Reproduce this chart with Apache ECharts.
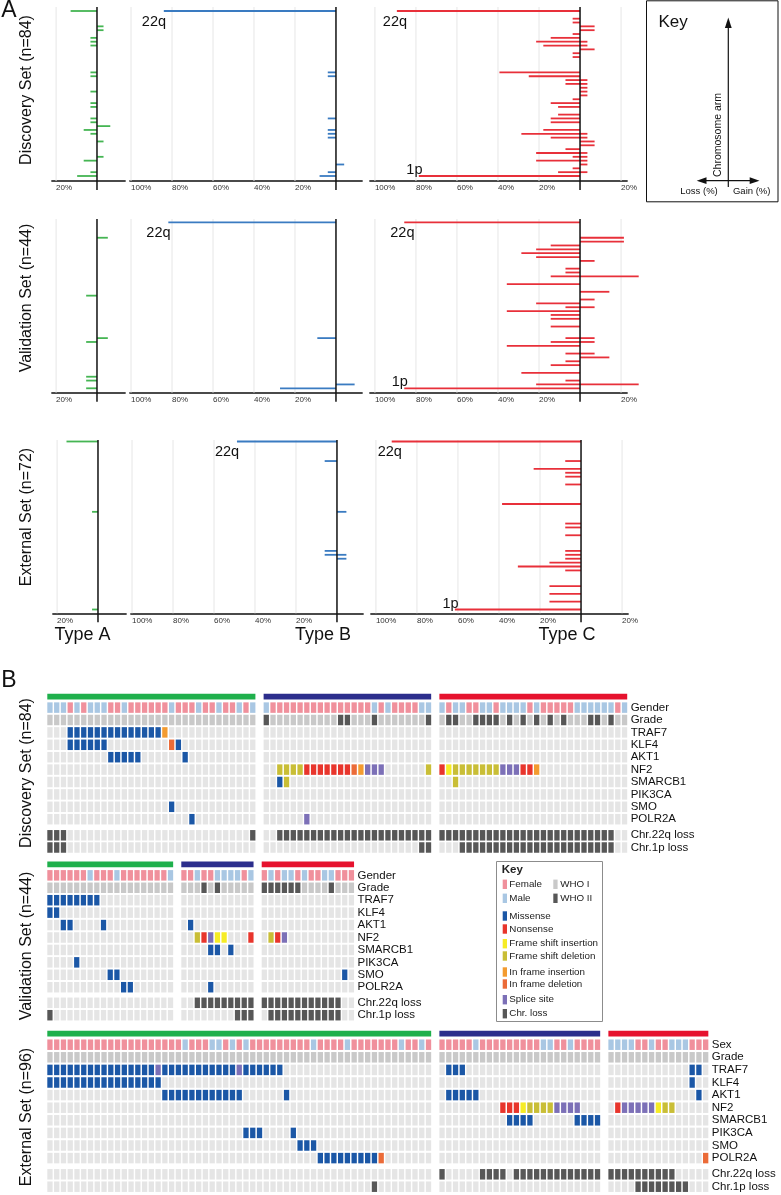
<!DOCTYPE html>
<html>
<head>
<meta charset="utf-8">
<script src="https://cdn.jsdelivr.net/npm/echarts@6.0.0/dist/echarts.min.js"></script>
<style>
html,body{margin:0;padding:0;background:#fff;}
#chart{width:781px;height:1195px;}
</style>
</head>
<body>
<div id="chart"></div>
<script>
// ================= Panel A data: % of cases with loss / gain per chromosome arm =================
// arms listed top (22q) to bottom (1p), as drawn
const arms = ['22q','22p','21q','21p','20q','20p','19q','19p','18q','18p','17q','17p','16q','16p','15q','15p',
  '14q','14p','13q','13p','12q','12p','11q','11p','10q','10p','9q','9p','8q','8p','7q','7p','6q','6p',
  '5q','5p','4q','4p','3q','3p','2q','2p','1q','1p'];

const discoveryA_loss = [12.9,0,0,0,0,0,0,3.2,3.2,3.2, 0,0,0,0,0,0,3.2,3.2,0,0, 0,3.2,0,0,3.2,3.2,0,0,3.2,3.2, 0,6.5,3.2,0,0,0,0,0,0,6.5, 0,0,3.2,9.7];
const discoveryA_gain = [0,0,0,0,3.2,3.2,0,0,0,0, 0,0,0,0,0,0,0,0,0,0, 0,0,0,0,0,0,0,0,0,0, 6.5,0,0,0,3.2,0,0,0,3.2,0, 0,0,0,0];
const discoveryB_loss = [84,0,0,0,0,0,0,0,0,0, 0,0,0,0,0,0,4,4,0,0, 0,0,0,0,0,0,0,0,4,0, 0,4,4,4,0,0,0,0,0,0, 0,0,4,8];
const discoveryB_gain = [0,0,0,0,0,0,0,0,0,0, 0,0,0,0,0,0,0,0,0,0, 0,0,0,0,0,0,0,0,0,0, 0,0,0,0,0,0,0,0,0,0, 4,0,0,0];
const discoveryC_loss = [89.3,0,3.6,3.6,0,0,3.6,14.3,21.4,17.9, 0,3.6,3.6,0,0,0,39.3,25,7.1,7.1, 0,0,0,3.6,14.3,10.7,0,10.7,14.3,14.3, 0,17.9,28.6,14.3,0,0,7.1,21.4,3.6,21.4, 0,3.6,10.7,78.6];
const discoveryC_gain = [0,0,0,0,7.1,7.1,0,0,3.6,3.6, 7.1,0,0,0,0,0,0,0,3.6,3.6, 3.6,3.6,3.6,0,0,0,0,0,0,0, 0,0,3.6,3.6,7.1,7.1,0,3.6,3.6,3.6, 3.6,0,3.6,0];

const validationA_loss = [0,0,0,0,0,0,0,0,0,0, 0,0,0,0,0,0,0,0,0,5.3, 0,0,0,0,0,0,0,0,0,0, 0,5.3,0,0,0,0,0,0,0,0, 5.3,5.3,0,5.3];
const validationA_gain = [0,0,0,0,5.3,0,0,0,0,0, 0,0,0,0,0,0,0,0,0,0, 0,0,0,0,0,0,0,0,0,0, 5.3,0,0,0,0,0,0,0,0,0, 0,0,0,0];
const validationB_loss = [81.8,0,0,0,0,0,0,0,0,0, 0,0,0,0,0,0,0,0,0,0, 0,0,0,0,0,0,0,0,0,0, 9.1,0,0,0,0,0,0,0,0,0, 0,0,0,27.3];
const validationB_gain = [0,0,0,0,0,0,0,0,0,0, 0,0,0,0,0,0,0,0,0,0, 0,0,0,0,0,0,0,0,0,0, 0,0,0,0,0,0,0,0,0,0, 0,0,9.1,0];
const validationC_loss = [85.7,0,0,0,0,0,14.3,21.4,28.6,21.4, 0,0,7.1,7.1,14.3,0,35.7,0,0,0, 0,21.4,7.1,35.7,14.3,14.3,0,14.3,0,0, 7.1,14.3,35.7,0,7.1,0,7.1,14.3,0,28.6, 0,7.1,21.4,85.7];
const validationC_gain = [0,0,0,0,21.4,21.4,0,0,0,0, 7.1,0,0,0,28.6,0,0,0,14.3,0, 7.1,0,7.1,0,0,0,0,0,0,0, 7.1,7.1,0,0,7.1,14.3,0,0,0,0, 0,0,28.6,0];

const externalA_loss = [15.4,0,0,0,0,0,0,0,0,0, 0,0,0,0,0,0,0,0,2.9,0, 0,0,0,0,0,0,0,0,0,0, 0,0,0,0,0,0,0,0,0,0, 0,0,0,2.9];
const externalA_gain = [0,0,0,0,0,0,0,0,0,0, 0,0,0,0,0,0,0,0,0,0, 0,0,0,0,0,0,0,0,0,0, 0,0,0,0,0,0,0,0,0,0, 0,0,0,0];
const externalB_loss = [48.8,0,0,0,0,6,0,0,0,0, 0,0,0,0,0,0,0,0,0,0, 0,0,0,0,0,0,0,0,6,6, 0,0,0,0,0,0,0,0,0,0, 0,0,0,0];
const externalB_gain = [0,0,0,0,0,0,0,0,0,0, 0,0,0,0,0,0,0,0,4.6,0, 0,0,0,0,0,0,0,0,0,4.6, 4.6,0,0,0,0,0,0,0,0,0, 0,0,0,0];
const externalC_loss = [92.3,0,0,0,0,7.7,0,23.1,7.7,7.7, 0,7.7,0,0,0,0,38.5,0,0,0, 0,7.7,7.7,0,7.7,0,0,0,7.7,7.7, 7.7,15.4,30.8,7.7,0,0,0,15.4,0,15.4, 0,15.4,0,61.5];
const externalC_gain = [0,0,0,0,0,0,0,0,0,0, 0,0,0,0,0,0,0,0,0,0, 0,0,0,0,0,0,0,0,0,0, 0,0,0,0,0,0,0,0,0,0, 0,0,0,0];

const axisTicksA = [-20];
const axisTicksB = [-100,-80,-60,-40,-20];
const axisTicksC = [-100,-80,-60,-40,-20,20];
const setTitlesA = ['Discovery Set (n=84)', 'Validation Set (n=44)', 'External Set (n=72)'];
const typeTitles = ['Type A', 'Type B', 'Type C'];

// ================= Panel B data: one string per group (Type A | Type B | Type C) =================
// gender: f female, m male; grade: 1 WHO I, 2 WHO II
// mutations: M missense, N nonsense, I frame shift ins, D frame shift del, i in frame ins, d in frame del, S splice, L chr loss, . none
const GENES = ['TRAF7','KLF4','AKT1','NF2','SMARCB1','PIK3CA','SMO','POLR2A'];
const CHR_ROWS = ['Chr.22q loss','Chr.1p loss'];
const setTitlesB = ['Discovery Set (n=84)', 'Validation Set (n=44)', 'External Set (n=96)'];

const discoveryCounts = [31, 25, 28];
const discoveryGender = ['mmmfmfmmmffmffffffmfffmffmffmfm', 'mfffffffffffffffmfmffffmm', 'mfmmffmmfmmmmfmfffffmmmmmmfm'];
const discoveryGrade = ['1111111111111111111111111111111', '2111111111122111211111112', '1221122221212121212111221211'];
const discoveryGenes = [
  ['...MMMMMMMMMMMMMMi.............', '', ''],                       // TRAF7
  ['...MMMMMM.........dM...........', '', ''],                       // KLF4
  ['.........MMMMM......M..........', '', ''],                       // AKT1
  ['', '..DDDDNNNNNNNdiSSS......D', 'NIDDDDDDDSSSNNi.............'],   // NF2
  ['', '..MD.....................', '..D.........................'],  // SMARCB1
  ['', '', ''],                                                      // PIK3CA
  ['..................M............', '', ''],                       // SMO
  ['.....................M.........', '......S..................', '']  // POLR2A
];
const discoveryChr = [
  ['LLL...........................L', '..LLLLLLLLLLLLLLLLLLLLLLL', 'LLLLLLLLLLLLLLLLLLLLLLLLLL..'],
  ['LLL............................', '.......................LL', '...LLLLLLLLLLLLLLLLLLLLLLL..']
];

const validationCounts = [19, 11, 14];
const validationGender = ['ffffffmfffmfffffffm', 'ffmffmmmmfm', 'fmfmmfmffmmfff'];
const validationGrade = ['1111111111111111111', '11121211111', '22222211112111'];
const validationGenes = [
  ['MMMMMMMM...........', '', ''],            // TRAF7
  ['MM.................', '', ''],            // KLF4
  ['..MM....M..........', '.M.........', ''], // AKT1
  ['', '..DNSII...N', '.DNS..........'],      // NF2
  ['', '....MM.M...', ''],                    // SMARCB1
  ['....M..............', '', ''],            // PIK3CA
  ['.........MM........', '', '............M.'], // SMO
  ['...........MM......', '....M......', '']  // POLR2A
];
const validationChr = [
  ['', '..LLLLLLLLL', 'LLLLLLLLLLLL..'],
  ['L..................', '........LLL', '.LLLLLLLLLLL..']
];

const externalCounts = [57, 24, 15];
const externalGender = ['ffffffffffffffffffffmfffmmfmfmfffffffffmffffmfffffffmffmf', 'fffffmfffffffffmmffmffff', 'mmmmffmffmmmfff'];
const externalGrade = ['111111111111111111111111111111111111111111111111111111111', '111111111111111111111111', '111111111111111'];
const externalGenes = [
  ['MMMMMMMMMMMMMMMMSMMMMMMMMMMMSMMMMMM......................', '.MMM....................', '............MM.'], // TRAF7
  ['MMMMMMMMMMMMMMMMM........................................', '', '............M..'],                         // KLF4
  ['.................MMMMMMMMMMMM......M.....................', '.MMMMM..................', '.............M.'], // AKT1
  ['', '.........NNNIDDDDSSSS...', '.NSSSSSIDD.....'],                                                          // NF2
  ['', '..........MMMM......MMMM', ''],                                                                         // SMARCB1
  ['.............................MMM....M....................', '', ''],                                         // PIK3CA
  ['.....................................MMM.................', '', ''],                                         // SMO
  ['........................................MMMMMMMMMd.......', '', '..............d']                           // POLR2A
];
const externalChr = [
  ['', 'L.....LLLL.LLLLLLLLLLLLL', 'LLLLLLLLLL.....'],
  ['................................................L........', '', '....LLLLLLLL...']
];

// ================= styling / layout =================
const SANS = '"Liberation Sans", Arial, sans-serif';
function sfont(size, weight) { return (weight || 'normal') + ' ' + size + 'px ' + SANS; }

const LINE_COLORS = ['#45b553', '#3a7bc1', '#e8303a'];
const ROW_LAYOUT = [
  {top: 7,   bottom: 181,   y22: 11,    y1p: 176,   dx: 0},
  {top: 219, bottom: 392.7, y22: 222.3, y1p: 388.3, dx: 0},
  {top: 440, bottom: 613.3, y22: 441.5, y1p: 609.5, dx: 1}
];
const COL_LAYOUT = [
  {left: 52,  right: 125, min: -22,    max: 13.7, ticks: axisTicksA, labels: {}},
  {left: 130, right: 362, min: -100.5, max: 12.7, ticks: axisTicksB, labels: {'22q': {dx: -22, dy: 3, va: 'top'}}},
  {left: 370, right: 627, min: -102.4, max: 22.9, ticks: axisTicksC, labels: {'22q': {dx: -14, dy: 3, va: 'top'}, '1p': {dx: -12.5, dy: 1.5, va: 'bottom'}}}
];
const panelLoss = [
  [discoveryA_loss, discoveryB_loss, discoveryC_loss],
  [validationA_loss, validationB_loss, validationC_loss],
  [externalA_loss, externalB_loss, externalC_loss]
];
const panelGain = [
  [discoveryA_gain, discoveryB_gain, discoveryC_gain],
  [validationA_gain, validationB_gain, validationC_gain],
  [externalA_gain, externalB_gain, externalC_gain]
];

const grids = [], xAxes = [], yAxes = [], series = [], graphics = [];
const LAST = arms.length - 1;

ROW_LAYOUT.forEach((row, r) => {
  const s = (row.y1p - row.y22) / LAST;
  const ymin = -(row.bottom - row.y1p) / s;
  const ymax = LAST + (row.y22 - row.top) / s;
  COL_LAYOUT.forEach((col, c) => {
    const gi = grids.length;
    grids.push({left: col.left + row.dx, top: row.top, width: col.right - col.left,
      height: row.bottom - row.top, outerBoundsMode: 'none', containLabel: false});
    xAxes.push({type: 'value', gridIndex: gi, min: col.min, max: col.max,
      axisLine: {show: true, onZero: false, lineStyle: {color: '#4a4a4a', width: 1.8}},
      axisTick: {show: false}, splitLine: {show: false},
      axisLabel: {show: true, customValues: col.ticks,
        formatter: v => (v !== 0 && Math.abs(v) % 20 === 0) ? Math.abs(v) + '%' : '',
        align: 'left', margin: 3, fontSize: 8, fontFamily: SANS, color: '#333'}});
    yAxes.push({type: 'value', gridIndex: gi, min: ymin, max: ymax, show: false});
    // light vertical gridlines
    series.push({type: 'custom', xAxisIndex: gi, yAxisIndex: gi, silent: true, z: 1,
      data: col.ticks.map(v => [v, ymin]), encode: {x: 0, y: 1},
      renderItem: (p, api) => {
        const a = api.coord([api.value(0), ymax]), b = api.coord([api.value(0), ymin]);
        return {type: 'line', shape: {x1: a[0], y1: a[1], x2: b[0], y2: b[1]}, style: {stroke: '#e6e6e6', lineWidth: 1}};
      }});
    // zero line (extends a little below the axis)
    series.push({type: 'custom', xAxisIndex: gi, yAxisIndex: gi, silent: true, z: 5,
      data: [[0, ymin]], encode: {x: 0, y: 1},
      renderItem: (p, api) => {
        const a = api.coord([0, ymax]), b = api.coord([0, ymin]);
        return {type: 'line', shape: {x1: a[0], y1: a[1], x2: b[0], y2: b[1] + 9}, style: {stroke: '#111', lineWidth: 1.5}};
      }});
    // loss and gain bars
    [[panelLoss[r][c], -1], [panelGain[r][c], 1]].forEach(([vals, sign]) => {
      const data = [];
      vals.forEach((v, k) => { if (v > 0) data.push([sign * v, LAST - k, k]); });
      series.push({type: 'custom', xAxisIndex: gi, yAxisIndex: gi, silent: true, z: 3,
        data, encode: {x: 0, y: 1},
        renderItem: (p, api) => {
          const v = api.value(0), i = api.value(1), k = api.value(2);
          const p0 = api.coord([0, i]), p1 = api.coord([v, i]);
          const rect = {type: 'rect', shape: {x: Math.min(p0[0], p1[0]), y: p0[1] - 0.9, width: Math.abs(p1[0] - p0[0]), height: 1.8},
            style: {fill: LINE_COLORS[c]}};
          const lab = sign < 0 ? col.labels[arms[k]] : null;
          if (!lab) return rect;
          return {type: 'group', children: [rect, {type: 'text', x: p1[0] + lab.dx, y: p1[1] + lab.dy,
            style: {text: arms[k], fill: '#111', font: sfont(14.5), align: 'left', verticalAlign: lab.va}}]};
        }});
    });
  });
  graphics.push({type: 'text', x: 26.7, y: [90, 298, 517][r], rotation: Math.PI / 2,
    style: {text: setTitlesA[r], font: sfont(16), fill: '#111', align: 'center', verticalAlign: 'middle'}});
});
[82.5, 323, 567].forEach((x, i) => graphics.push({type: 'text', x, y: 635,
  style: {text: typeTitles[i], font: sfont(18), fill: '#111', align: 'center', verticalAlign: 'middle'}}));

// ================= Panel B heatmaps =================
const HM = {'.': '#e5e5e5', f: '#f0909c', m: '#a9c7e3', '1': '#c9c9c9', '2': '#575757',
  M: '#1b57a6', N: '#e8352c', I: '#f6ec25', D: '#c9be36', i: '#f39b30', d: '#eb6b38', S: '#7c70b7', L: '#575757'};
const GROUP_COLORS = ['#1fb04c', '#2c2e8c', '#e6122e'];
const CELL_GAP = 1.45, CELL_H = 10.5;

function addHeatmap(set, lay) {
  const starts = []; let s = 0;
  set.counts.forEach(n => { starts.push(s); s += n + 1; });
  const ncols = s - 1;
  const cols = []; for (let j = 0; j < ncols; j++) cols.push(String(j));
  const width = ncols * lay.pitch;
  const mainRows = ['', set.sexLabel, 'Grade'].concat(GENES);
  const blocks = [
    {top: lay.mainTop, pitch: lay.mainPitch, names: mainRows, rows: [set.gender, set.grade].concat(set.genes), offset: 1},
    {top: lay.chrTop, pitch: lay.chrPitch, names: CHR_ROWS, rows: set.chr, offset: 0}
  ];
  blocks.forEach((b, bi) => {
    const gi = grids.length;
    grids.push({left: lay.left, top: b.top, width, height: b.pitch * b.names.length, outerBoundsMode: 'none', containLabel: false});
    xAxes.push({type: 'category', gridIndex: gi, data: cols, show: false});
    yAxes.push({type: 'category', gridIndex: gi, data: b.names, inverse: true, position: 'right',
      axisLine: {show: false}, axisTick: {show: false}, splitLine: {show: false},
      axisLabel: {interval: 0, margin: 2, color: '#111', fontFamily: SANS, fontSize: 11.5}});
    const data = [], colors = [];
    b.rows.forEach((groups, ri) => groups.forEach((str, g) => {
      for (let t = 0; t < set.counts[g]; t++) {
        const ch = str[t] || '.';
        data.push([starts[g] + t, ri + b.offset]);
        colors.push(HM[ch] || HM['.']);
      }
    }));
    series.push({type: 'custom', xAxisIndex: gi, yAxisIndex: gi, silent: true, data, encode: {x: 0, y: 1},
      renderItem: (p, api) => {
        const c = api.coord([api.value(0), api.value(1)]), sz = api.size([1, 1]);
        return {type: 'rect', shape: {x: c[0] - sz[0] / 2, y: c[1] - CELL_H / 2, width: sz[0] - CELL_GAP, height: CELL_H},
          style: {fill: colors[p.dataIndex]}};
      }});
    if (bi === 0) {
      series.push({type: 'custom', xAxisIndex: gi, yAxisIndex: gi, silent: true, encode: {x: 0, y: 1},
        data: set.counts.map((n, g) => [starts[g], 0, starts[g] + n - 1, g]),
        renderItem: (p, api) => {
          const a = api.coord([api.value(0), 0]), e = api.coord([api.value(2), 0]), sz = api.size([1, 1]);
          return {type: 'rect', shape: {x: a[0] - sz[0] / 2, y: a[1] + 1.5 - 2.9, width: e[0] - a[0] + sz[0] - CELL_GAP, height: 5.8},
            style: {fill: GROUP_COLORS[api.value(3)]}};
        }});
    }
  });
}

addHeatmap({counts: discoveryCounts, gender: discoveryGender, grade: discoveryGrade, genes: discoveryGenes, chr: discoveryChr, sexLabel: 'Gender'},
  {left: 47.3, pitch: 6.76, mainTop: 689, mainPitch: 12.4, chrTop: 829.2, chrPitch: 12.2});
addHeatmap({counts: validationCounts, gender: validationGender, grade: validationGrade, genes: validationGenes, chr: validationChr, sexLabel: 'Gender'},
  {left: 47.3, pitch: 6.70, mainTop: 856.7, mainPitch: 12.43, chrTop: 996.6, chrPitch: 12.4});
addHeatmap({counts: externalCounts, gender: externalGender, grade: externalGrade, genes: externalGenes, chr: externalChr, sexLabel: 'Sex'},
  {left: 47.3, pitch: 6.76, mainTop: 1025.8, mainPitch: 12.6, chrTop: 1168.1, chrPitch: 12.4});

[773, 946, 1117].forEach((y, i) => graphics.push({type: 'text', x: 26.7, y, rotation: Math.PI / 2,
  style: {text: setTitlesB[i], font: sfont(16), fill: '#111', align: 'center', verticalAlign: 'middle'}}));

// panel letters
graphics.push({type: 'text', x: 9, y: 10.5, style: {text: 'A', font: sfont(23), fill: '#111', align: 'center', verticalAlign: 'middle'}});
graphics.push({type: 'text', x: 9, y: 681, style: {text: 'B', font: sfont(23), fill: '#111', align: 'center', verticalAlign: 'middle'}});

// ---- Panel A key ----
graphics.push({type: 'rect', shape: {x: 646.5, y: 0.8, width: 131.5, height: 201}, style: {fill: 'none', stroke: '#111', lineWidth: 1}});
graphics.push({type: 'text', x: 658.5, y: 22, style: {text: 'Key', font: sfont(17), fill: '#111', align: 'left', verticalAlign: 'middle'}});
graphics.push({type: 'line', shape: {x1: 728.3, y1: 187, x2: 728.3, y2: 27}, style: {stroke: '#111', lineWidth: 1.2}});
graphics.push({type: 'polygon', shape: {points: [[728.3, 17.5], [724.9, 28], [731.7, 28]]}, style: {fill: '#111'}});
graphics.push({type: 'line', shape: {x1: 705, y1: 180.7, x2: 751, y2: 180.7}, style: {stroke: '#111', lineWidth: 1.2}});
graphics.push({type: 'polygon', shape: {points: [[696.7, 180.7], [706.5, 177.3], [706.5, 184.1]]}, style: {fill: '#111'}});
graphics.push({type: 'polygon', shape: {points: [[759.5, 180.7], [749.7, 177.3], [749.7, 184.1]]}, style: {fill: '#111'}});
graphics.push({type: 'text', x: 718.5, y: 135, rotation: Math.PI / 2, style: {text: 'Chromosome arm', font: sfont(10.5), fill: '#111', align: 'center', verticalAlign: 'middle'}});
graphics.push({type: 'text', x: 699, y: 191.7, style: {text: 'Loss (%)', font: sfont(9.5), fill: '#111', align: 'center', verticalAlign: 'middle'}});
graphics.push({type: 'text', x: 751.7, y: 191.7, style: {text: 'Gain (%)', font: sfont(9.5), fill: '#111', align: 'center', verticalAlign: 'middle'}});

// ---- Panel B key ----
const keyLeft = [['Female', HM.f, 884.3], ['Male', HM.m, 898.3], ['Missense', HM.M, 916], ['Nonsense', HM.N, 929],
  ['Frame shift insertion', HM.I, 943.7], ['Frame shift deletion', HM.D, 956], ['In frame insertion', HM.i, 972],
  ['In frame deletion', HM.d, 984], ['Splice site', HM.S, 999.7], ['Chr. loss', HM.L, 1013.7]];
const keyRight = [['WHO I', HM['1'], 884.3], ['WHO II', HM['2'], 898.3]];
graphics.push({type: 'rect', shape: {x: 496.5, y: 861.5, width: 106, height: 160}, style: {fill: '#fff', stroke: '#8c8c8c', lineWidth: 1}});
graphics.push({type: 'text', x: 501.7, y: 869.5, style: {text: 'Key', font: sfont(11.5, 'bold'), fill: '#222', align: 'left', verticalAlign: 'middle'}});
[[keyLeft, 502.7, 509.3], [keyRight, 553.3, 560.2]].forEach(([items, sx, tx]) => items.forEach(([t, col, y]) => {
  graphics.push({type: 'rect', shape: {x: sx, y: y - 4.7, width: 4.3, height: 9.4}, style: {fill: col}});
  graphics.push({type: 'text', x: tx, y, style: {text: t, font: sfont(9.8), fill: '#222', align: 'left', verticalAlign: 'middle'}});
}));

const chart = echarts.init(document.getElementById('chart'), null, {renderer: 'canvas'});
chart.setOption({animation: false, backgroundColor: '#fff', grid: grids, xAxis: xAxes, yAxis: yAxes, series, graphic: graphics});
</script>
</body>
</html>
